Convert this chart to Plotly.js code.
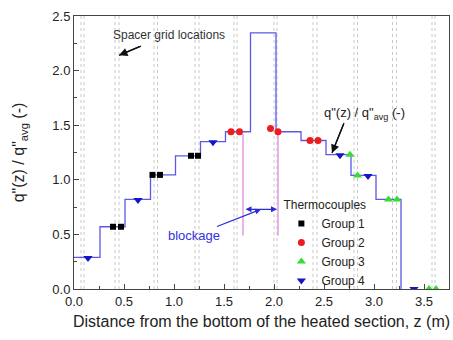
<!DOCTYPE html>
<html>
<head>
<meta charset="utf-8">
<script src="https://cdn.plot.ly/plotly-3.0.1.min.js"></script>
<style>html,body{margin:0;padding:0;background:#fff;}#chart{width:453px;height:340px;}</style>
</head>
<body>
<div id="chart"></div>
<script>
// Axial heat-flux profile (step edges and values)
var stepEdges = [0, 0.26, 0.51, 0.765, 1.015, 1.265, 1.515, 1.765, 2.02, 2.27, 2.52, 2.77, 3.02, 3.27];
var stepValues = [0.29, 0.57, 0.82, 1.045, 1.22, 1.35, 1.44, 2.345, 1.44, 1.36, 1.23, 1.04, 0.82, 0];

// Thermocouple groups
var g1z = [0.39, 0.47, 0.785, 0.86, 1.17, 1.24];
var g1v = [0.57, 0.57, 1.045, 1.045, 1.22, 1.22];
var g2z = [1.57, 1.655, 1.965, 2.04, 2.36, 2.44];
var g2v = [1.44, 1.44, 1.47, 1.44, 1.36, 1.36];
var g3z = [2.76, 2.835, 3.145, 3.23, 3.55, 3.62];
var g3v = [1.23, 1.04, 0.82, 0.82, 0, 0];
var g4z = [0.14, 0.64, 1.39, 2.66, 2.94, 3.40];
var g4v = [0.285, 0.815, 1.345, 1.225, 1.035, 0];
var groupNames = ['Group 1', 'Group 2', 'Group 3', 'Group 4'];

// Spacer grid locations (pairs of lines)
var spacerLeft = [0.07, 0.41, 0.80, 1.21, 1.60, 2.00, 2.39, 2.80, 3.185, 3.58];
var spacerRight = [0.10, 0.45, 0.835, 1.25, 1.63, 2.03, 2.43, 2.835, 3.225, 3.61];

// Blockage bounds
var blockageZ = [1.69, 2.04];
var blockageSpan = [0.49, 1.42];
var blockageArrowY = 0.73;

// Pointer lines for the labels (tail -> head)
var spacerPointerZ = [0.67, 0.45];
var spacerPointerY = [2.225, 2.14];
var qPointerZ = [2.70, 2.58];
var qPointerY = [1.52, 1.245];

var xTicks = [0, 0.5, 1, 1.5, 2, 2.5, 3, 3.5];
var xTickText = ['0.0', '0.5', '1.0', '1.5', '2.0', '2.5', '3.0', '3.5'];
var yTicks = [0, 0.5, 1, 1.5, 2, 2.5];
var yTickText = ['0.0', '0.5', '1.0', '1.5', '2.0', '2.5'];

var FONT = 'Liberation Sans, Arial, sans-serif';

var traces = [
  {x: stepEdges, y: stepValues, mode: 'lines', line: {shape: 'hv', color: '#5a5ae6', width: 1.3}, showlegend: false, hoverinfo: 'skip'},
  {x: spacerPointerZ, y: spacerPointerY, mode: 'lines', showlegend: false, hoverinfo: 'skip',
   line: {color: '#111111', width: 1.3}},
  {x: qPointerZ, y: qPointerY, mode: 'lines', showlegend: false, hoverinfo: 'skip',
   line: {color: '#111111', width: 1.3}},
  {x: g1z, y: g1v, mode: 'markers', name: groupNames[0], marker: {symbol: 'square', size: 6, color: '#000000'}},
  {x: g2z, y: g2v, mode: 'markers', name: groupNames[1], marker: {symbol: 'circle', size: 7, color: '#ee1c1c'}},
  {x: g3z, y: g3v, mode: 'markers', name: groupNames[2], marker: {symbol: 'triangle-up', size: 8, color: '#33dd33'}},
  {x: g4z, y: g4v, mode: 'markers', name: groupNames[3], marker: {symbol: 'triangle-down', size: 8, color: '#1414c8'}}
];

var shapes = [];
spacerLeft.concat(spacerRight).forEach(function (z) {
  shapes.push({type: 'line', xref: 'x', yref: 'paper', x0: z, x1: z, y0: 0, y1: 1,
    line: {color: '#c8c8c8', width: 1, dash: 'dot'}, layer: 'below'});
});
blockageZ.forEach(function (z) {
  shapes.push({type: 'line', xref: 'x', yref: 'y', x0: z, x1: z, y0: blockageSpan[0], y1: blockageSpan[1],
    line: {color: '#e39ae3', width: 1.5}, layer: 'below'});
});

var annotations = [
  {x: 0.95, y: 2.33, xref: 'x', yref: 'y', text: 'Spacer grid locations', showarrow: false,
   font: {family: FONT, size: 12, color: '#333'}},
  {x: spacerPointerZ[1], y: spacerPointerY[1], ax: spacerPointerZ[0], ay: spacerPointerY[0],
   xref: 'x', yref: 'y', axref: 'x', ayref: 'y', text: '', showarrow: true,
   arrowhead: 2, arrowsize: 1.3, arrowwidth: 1.3, arrowcolor: '#111111'},
  {x: 2.90, y: 1.61, xref: 'x', yref: 'y', text: 'q"(z) / q"<sub>avg</sub> (-)', showarrow: false,
   font: {family: FONT, size: 13, color: '#222'}},
  {x: qPointerZ[1], y: qPointerY[1], ax: qPointerZ[0], ay: qPointerY[0],
   xref: 'x', yref: 'y', axref: 'x', ayref: 'y', text: '', showarrow: true,
   arrowhead: 2, arrowsize: 1.3, arrowwidth: 1.3, arrowcolor: '#111111'},
  {x: blockageZ[1] - 0.01, y: blockageArrowY, ax: blockageZ[0] + 0.01, ay: blockageArrowY, xref: 'x', yref: 'y', axref: 'x', ayref: 'y',
   text: '', showarrow: true, arrowhead: 2, startarrowhead: 2, arrowside: 'end+start', arrowsize: 1, arrowwidth: 1.2, arrowcolor: '#2a2ad8'},
  {x: 1.87, y: blockageArrowY, ax: 1.2, ay: 0.49, xref: 'x', yref: 'y', axref: 'x', ayref: 'y',
   text: 'blockage', showarrow: true, arrowhead: 2, arrowsize: 1, arrowwidth: 1.2, arrowcolor: '#2a2ad8',
   font: {family: FONT, size: 13, color: '#3333dd'}}
];

var layout = {
  width: 453, height: 340,
  margin: {l: 74, r: 4, t: 16, b: 51},
  paper_bgcolor: '#ffffff', plot_bgcolor: '#ffffff',
  font: {family: FONT, size: 12, color: '#222'},
  showlegend: true,
  legend: {x: 0.553, y: 0.35, xanchor: 'left', yanchor: 'top', bgcolor: 'rgba(0,0,0,0)',
    title: {text: 'Thermocouples', font: {family: FONT, size: 12, color: '#222'}},
    font: {family: FONT, size: 12, color: '#222'}, tracegroupgap: 0},
  xaxis: {range: [0, 3.75], tickvals: xTicks, ticktext: xTickText, ticks: 'inside', ticklen: 5,
    tickcolor: '#444', showline: true, linecolor: '#444', linewidth: 1, mirror: true, showgrid: false, zeroline: false,
    minor: {dtick: 0.25, tick0: 0, ticks: 'inside', ticklen: 3, tickcolor: '#444', showgrid: false},
    tickfont: {family: FONT, size: 13, color: '#222'},
    title: {text: 'Distance from the bottom of the heated section, z (m)', standoff: 8,
      font: {family: FONT, size: 16, color: '#222'}}},
  yaxis: {range: [0, 2.5], tickvals: yTicks, ticktext: yTickText, ticks: 'inside', ticklen: 5,
    tickcolor: '#444', showline: true, linecolor: '#444', linewidth: 1, mirror: true, showgrid: false, zeroline: false,
    minor: {dtick: 0.25, tick0: 0, ticks: 'inside', ticklen: 3, tickcolor: '#444', showgrid: false},
    tickfont: {family: FONT, size: 13, color: '#222'},
    title: {text: 'q"(z) / q"<sub>avg</sub> (-)', standoff: 23,
      font: {family: FONT, size: 16, color: '#222'}}},
  shapes: shapes,
  annotations: annotations
};

Plotly.newPlot('chart', traces, layout, {staticPlot: true, displayModeBar: false});
</script>
</body>
</html>
